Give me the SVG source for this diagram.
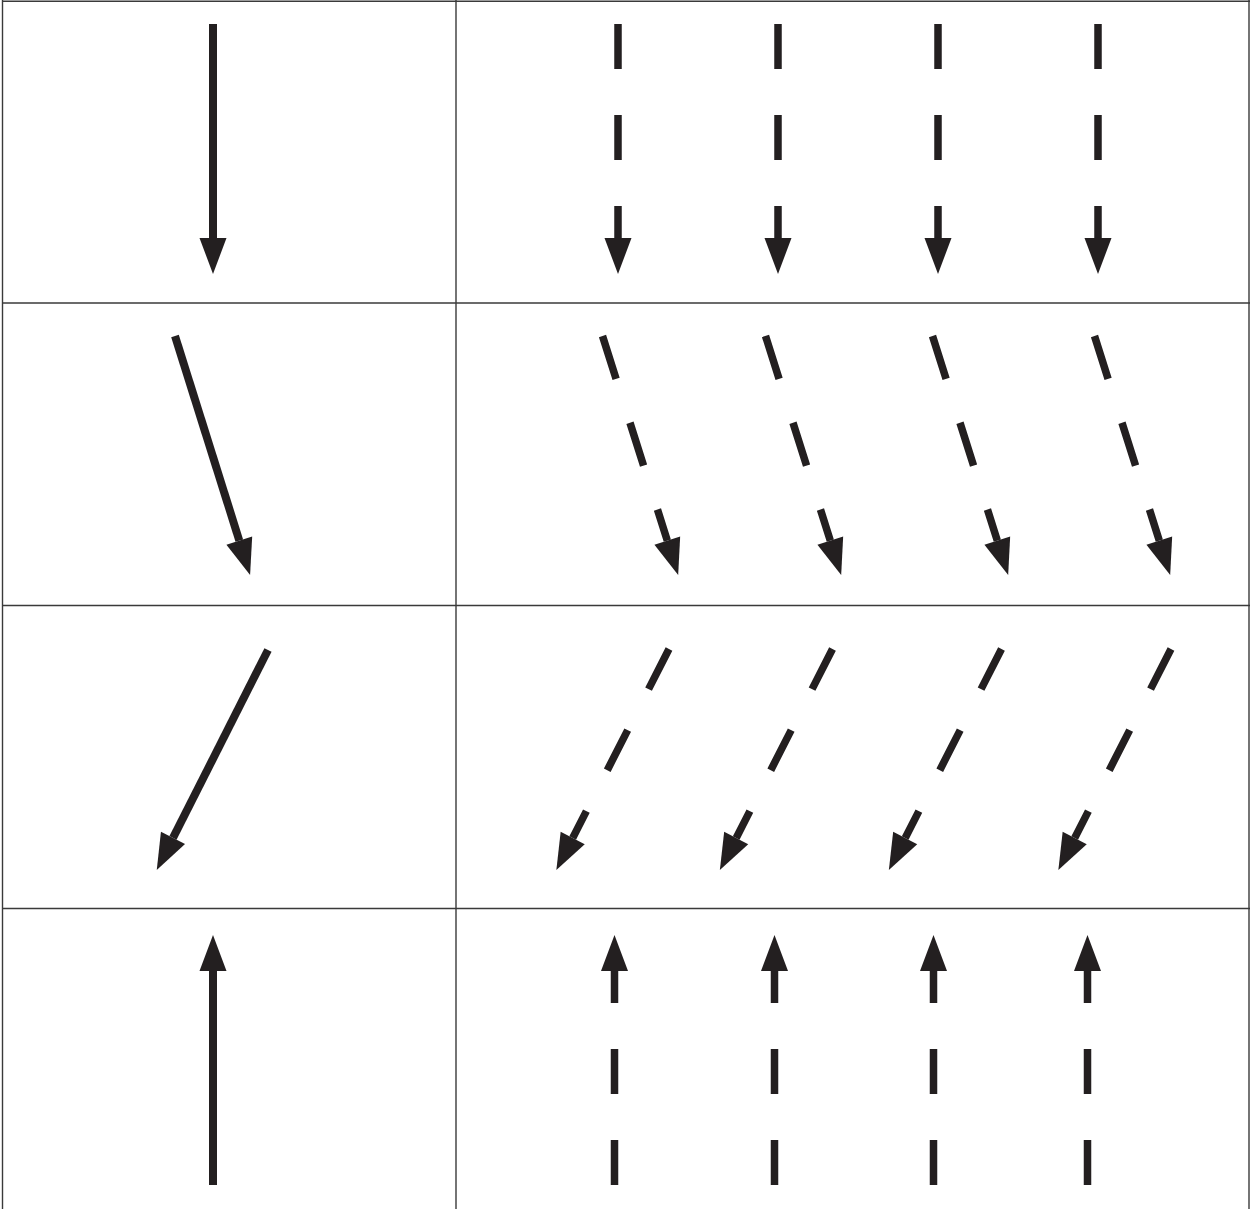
<svg xmlns="http://www.w3.org/2000/svg" width="1250" height="1209" viewBox="0 0 1250 1209">
<style>
.grid{stroke:#3a3a3a;stroke-width:1.4;fill:none}
.solid{stroke:#231f20;stroke-width:8;fill:none;marker-end:url(#head)}
.dash{stroke:#231f20;stroke-width:7.5;fill:none;stroke-dasharray:45 46;marker-end:url(#head)}
</style>
<defs>
<marker id="head" markerUnits="userSpaceOnUse" viewBox="0 0 36 27" markerWidth="36" markerHeight="27" refX="0" refY="13.5" orient="auto" overflow="visible">
<path d="M0,0 L36,13.5 L0,27 Z" fill="#231f20"/>
</marker>
</defs>
<rect width="1250" height="1209" fill="#ffffff"/>
<g id="grid">
<line class="grid" x1="2.5" y1="0" x2="2.5" y2="1209"/>
<line class="grid" x1="1249" y1="0" x2="1249" y2="1209"/>
<line class="grid" x1="2" y1="1.2" x2="1250" y2="1.2"/>
<line class="grid" x1="456" y1="0" x2="456" y2="1209"/>
<line class="grid" x1="2" y1="303" x2="1250" y2="303"/>
<line class="grid" x1="2" y1="605.5" x2="1250" y2="605.5"/>
<line class="grid" x1="2" y1="908.5" x2="1250" y2="908.5"/>
</g>
<g id="connectors">
<g id="row1">
<line class="solid" x1="213" y1="24" x2="213" y2="238"/>
<line class="dash" x1="618" y1="24" x2="618" y2="238"/>
<line class="dash" x1="778" y1="24" x2="778" y2="238"/>
<line class="dash" x1="938" y1="24" x2="938" y2="238"/>
<line class="dash" x1="1098" y1="24" x2="1098" y2="238"/>
</g>
<g id="row2">
<line class="solid" x1="175" y1="336" x2="239.3" y2="540.6"/>
<line class="dash" x1="602.5" y1="336" x2="667.3" y2="540.6"/>
<line class="dash" x1="765.5" y1="336" x2="830.3" y2="540.6"/>
<line class="dash" x1="932.5" y1="336" x2="997.3" y2="540.6"/>
<line class="dash" x1="1094.5" y1="336" x2="1159.3" y2="540.6"/>
</g>
<g id="row3">
<line class="solid" x1="268" y1="650" x2="173" y2="837.9"/>
<line class="dash" x1="669" y1="649" x2="572.7" y2="838"/>
<line class="dash" x1="832.5" y1="649" x2="736.2" y2="838"/>
<line class="dash" x1="1001.5" y1="649" x2="905.2" y2="838"/>
<line class="dash" x1="1171" y1="649" x2="1074.7" y2="838"/>
</g>
<g id="row4">
<line class="solid" x1="213" y1="1185" x2="213" y2="971"/>
<line class="dash" x1="614.5" y1="1185" x2="614.5" y2="971"/>
<line class="dash" x1="774.5" y1="1185" x2="774.5" y2="971"/>
<line class="dash" x1="933.5" y1="1185" x2="933.5" y2="971"/>
<line class="dash" x1="1087.5" y1="1185" x2="1087.5" y2="971"/>
</g>
</g>
</svg>
